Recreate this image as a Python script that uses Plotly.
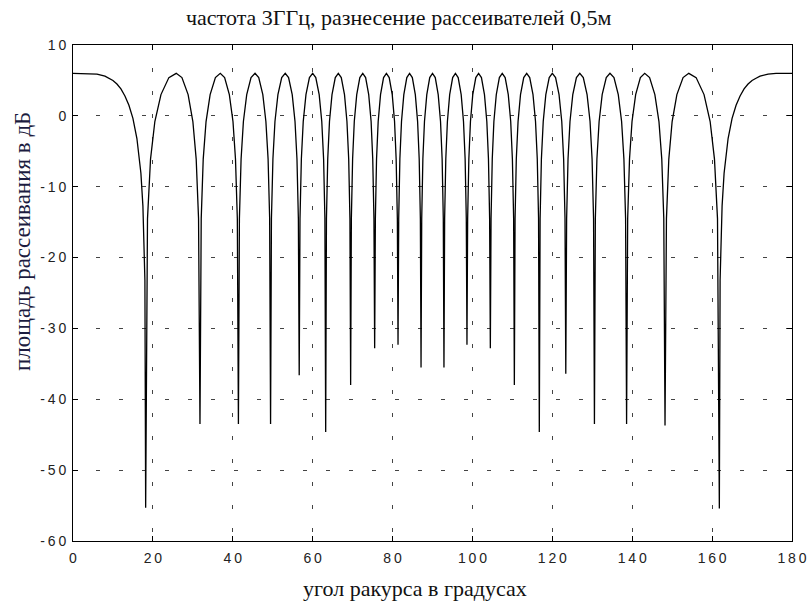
import plotly.graph_objects as go

# угол ракурса (градусы) и ЭПР (дБ)
angle_deg = [
    0.0, 4.0, 6.0, 8.0, 9.0, 10.0, 11.0, 12.0, 13.0, 14.0, 15.0, 16.0, 17.0, 17.5, 18.0,
    18.19, 18.65, 19.41, 20.49, 22.02, 24.00, 25.84, 27.27, 28.82, 30.01, 30.84, 31.43,
    31.79, 32.10, 32.60, 33.31, 34.33, 35.65, 36.87, 37.96, 39.14, 40.05, 40.68, 41.14,
    41.41, 41.66, 42.08, 42.66, 43.49, 44.57, 45.57, 46.50, 47.52, 48.29, 48.84, 49.23,
    49.46, 49.68, 50.05, 50.56, 51.30, 52.25, 53.13, 53.97, 54.88, 55.58, 56.07, 56.42,
    56.63, 56.83, 57.17, 57.64, 58.32, 59.19, 60.00, 60.78, 61.63, 62.28, 62.74, 63.06,
    63.26, 63.45, 63.77, 64.21, 64.84, 65.66, 66.42, 67.16, 67.97, 68.58, 69.02, 69.33,
    69.51, 69.69, 70.00, 70.42, 71.03, 71.81, 72.54, 73.26, 74.03, 74.63, 75.04, 75.34,
    75.52, 75.70, 75.99, 76.40, 76.99, 77.75, 78.46, 79.16, 79.92, 80.50, 80.90, 81.20,
    81.37, 81.54, 81.83, 82.24, 82.82, 83.57, 84.26, 84.95, 85.70, 86.27, 86.67, 86.96,
    87.13, 87.30, 87.59, 87.99, 88.57, 89.31, 90.00, 90.69, 91.43, 92.01, 92.41, 92.70,
    92.87, 93.04, 93.33, 93.73, 94.30, 95.05, 95.74, 96.43, 97.18, 97.76, 98.17, 98.46,
    98.63, 98.80, 99.10, 99.50, 100.08, 100.84, 101.54, 102.25, 103.01, 103.60, 104.01, 104.30,
    104.48, 104.66, 104.96, 105.37, 105.97, 106.74, 107.46, 108.19, 108.97, 109.58, 110.00, 110.31,
    110.49, 110.67, 110.98, 111.42, 112.03, 112.84, 113.58, 114.34, 115.16, 115.79, 116.23, 116.55,
    116.74, 116.94, 117.26, 117.72, 118.37, 119.22, 120.00, 120.81, 121.68, 122.36, 122.83, 123.17,
    123.37, 123.58, 123.93, 124.42, 125.12, 126.03, 126.87, 127.75, 128.70, 129.44, 129.95, 130.32,
    130.54, 130.77, 131.16, 131.71, 132.48, 133.50, 134.43, 135.43, 136.51, 137.34, 137.92, 138.34,
    138.59, 138.86, 139.32, 139.95, 140.86, 142.04, 143.13, 144.35, 145.67, 146.69, 147.40, 147.90,
    148.21, 148.57, 149.16, 149.99, 151.18, 152.73, 154.16, 156.00, 157.98, 159.51, 160.59, 161.35,
    161.81, 162.0, 162.5, 163.0, 164.0, 165.0, 166.0, 167.0, 168.0, 169.0, 170.0, 171.0, 172.0, 174.0, 176.0, 180.0,
]
rcs_db = [
    6.0, 6.0, 5.9, 5.6, 5.3, 5.0, 4.5, 3.8, 2.8, 1.5, -0.35, -3.2, -8.1, -12.7, -23.2,
    -55.3, -14.5, -6.1, -0.8, 3.0, 5.4, 6.0, 5.4, 3.0, -0.8, -6.1, -14.5,
    -43.5, -14.5, -6.1, -0.8, 3.0, 5.4, 6.0, 5.4, 3.0, -0.8, -6.1, -14.5,
    -43.5, -14.5, -6.1, -0.8, 3.0, 5.4, 6.0, 5.4, 3.0, -0.8, -6.1, -14.5,
    -43.5, -14.5, -6.1, -0.8, 3.0, 5.4, 6.0, 5.4, 3.0, -0.8, -6.1, -14.5,
    -36.6, -14.5, -6.1, -0.8, 3.0, 5.4, 6.0, 5.4, 3.0, -0.8, -6.1, -14.5,
    -44.6, -14.5, -6.1, -0.8, 3.0, 5.4, 6.0, 5.4, 3.0, -0.8, -6.1, -14.5,
    -38.0, -14.5, -6.1, -0.8, 3.0, 5.4, 6.0, 5.4, 3.0, -0.8, -6.1, -14.5,
    -32.8, -14.5, -6.1, -0.8, 3.0, 5.4, 6.0, 5.4, 3.0, -0.8, -6.1, -14.5,
    -32.3, -14.5, -6.1, -0.8, 3.0, 5.4, 6.0, 5.4, 3.0, -0.8, -6.1, -14.5,
    -35.5, -14.5, -6.1, -0.8, 3.0, 5.4, 6.0, 5.4, 3.0, -0.8, -6.1, -14.5,
    -35.5, -14.5, -6.1, -0.8, 3.0, 5.4, 6.0, 5.4, 3.0, -0.8, -6.1, -14.5,
    -32.3, -14.5, -6.1, -0.8, 3.0, 5.4, 6.0, 5.4, 3.0, -0.8, -6.1, -14.5,
    -32.8, -14.5, -6.1, -0.8, 3.0, 5.4, 6.0, 5.4, 3.0, -0.8, -6.1, -14.5,
    -38.0, -14.5, -6.1, -0.8, 3.0, 5.4, 6.0, 5.4, 3.0, -0.8, -6.1, -14.5,
    -44.6, -14.5, -6.1, -0.8, 3.0, 5.4, 6.0, 5.4, 3.0, -0.8, -6.1, -14.5,
    -36.4, -14.5, -6.1, -0.8, 3.0, 5.4, 6.0, 5.4, 3.0, -0.8, -6.1, -14.5,
    -43.5, -14.5, -6.1, -0.8, 3.0, 5.4, 6.0, 5.4, 3.0, -0.8, -6.1, -14.5,
    -43.5, -14.5, -6.1, -0.8, 3.0, 5.4, 6.0, 5.4, 3.0, -0.8, -6.1, -14.5,
    -43.7, -14.5, -6.1, -0.8, 3.0, 5.4, 6.0, 5.4, 3.0, -0.8, -6.1, -14.5,
    -55.4, -23.2, -12.7, -8.1, -3.2, -0.35, 1.5, 2.8, 3.8, 4.5, 5.0, 5.3, 5.6, 5.9, 6.0, 6.0,
]

x_ticks = [0, 20, 40, 60, 80, 100, 120, 140, 160, 180]
y_ticks = [10, 0, -10, -20, -30, -40, -50, -60]

title_text = "частота 3ГГц, разнесение рассеивателей 0,5м"
x_label = "угол ракурса в градусах"
y_label = "площадь рассеивания в дБ"


def spaced(v):
    # wide letter spacing as in the original tick labels
    return "\u2009".join(str(v))


fig = go.Figure()
fig.add_trace(go.Scatter(x=angle_deg, y=rcs_db, mode="lines",
                         line=dict(color="black", width=1.3), showlegend=False))

serif = "Liberation Serif, Times New Roman, serif"
sans = "Liberation Sans, Arial, sans-serif"
axis_style = dict(showline=True, linecolor="black", linewidth=1, mirror="ticks",
                  ticks="inside", ticklen=5, tickcolor="black", automargin=False,
                  showgrid=True, gridcolor="#444", gridwidth=1, griddash="4px,19px",
                  zeroline=False, tickfont=dict(family=sans, size=14, color="#222"))

fig.update_xaxes(range=[0, 180], tickvals=x_ticks, ticktext=[spaced(v) for v in x_ticks],
                 ticklabelstandoff=4, **axis_style)
fig.update_yaxes(range=[-60, 10], tickvals=y_ticks, ticktext=[spaced(v) for v in y_ticks],
                 ticklabelstandoff=3, **axis_style)

W, H = 809, 605
L, R, T, B = 73, 17, 45, 64
pw, ph = W - L - R, H - T - B

fig.update_layout(
    width=W, height=H,
    margin=dict(l=L, r=R, t=T, b=B),
    paper_bgcolor="white", plot_bgcolor="white",
    annotations=[
        dict(text=title_text, x=(398 - L) / pw, y=1 + (T - 17) / ph, xref="paper", yref="paper",
             showarrow=False, font=dict(family=serif, size=22, color="#111"),
             xanchor="center", yanchor="middle"),
        dict(text=x_label, x=(415 - L) / pw, y=-(588 - (T + ph)) / ph, xref="paper", yref="paper",
             showarrow=False, font=dict(family=serif, size=22, color="#111"),
             xanchor="center", yanchor="middle"),
        dict(text=y_label, x=(22 - L) / pw, y=1 - (242 - T) / ph, xref="paper", yref="paper",
             showarrow=False, textangle=-90, font=dict(family=serif, size=23, color="#1c1c40"),
             xanchor="center", yanchor="middle"),
    ],
)

# drop the default 8px body margin so the figure fills the window exactly
fig.write_html("out.html", config={"displayModeBar": False},
               post_script="document.body.style.margin='0';")
